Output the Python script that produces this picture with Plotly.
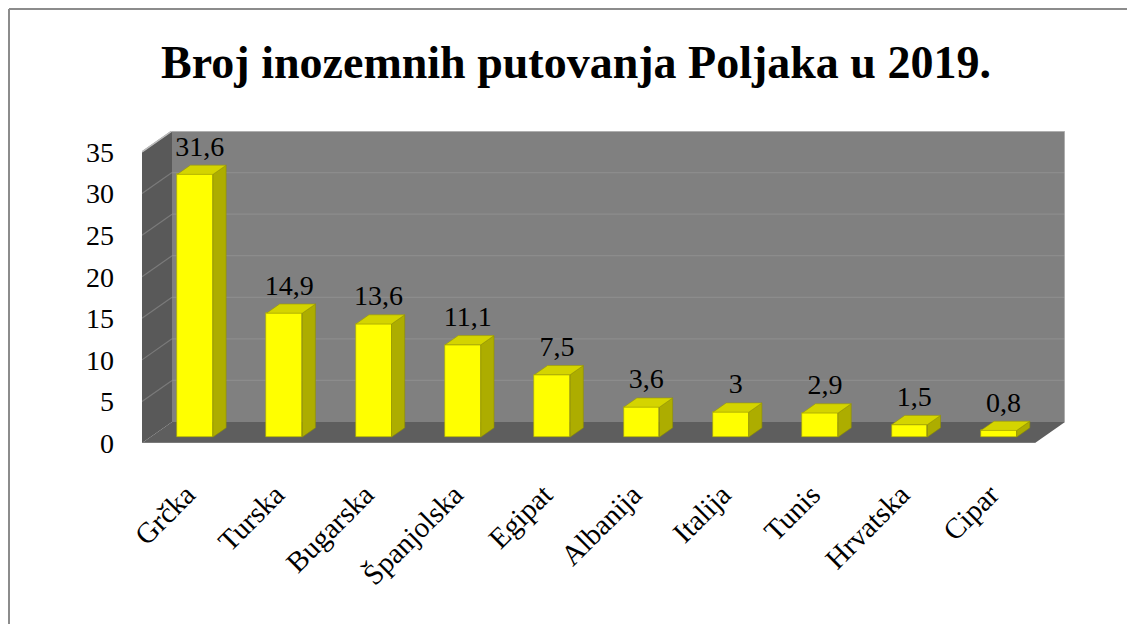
import plotly.graph_objects as go

# ---- data ----
categories = ["Grčka", "Turska", "Bugarska", "Španjolska", "Egipat",
              "Albanija", "Italija", "Tunis", "Hrvatska", "Cipar"]
values = [31.6, 14.9, 13.6, 11.1, 7.5, 3.6, 3.0, 2.9, 1.5, 0.8]
value_labels = ["31,6", "14,9", "13,6", "11,1", "7,5", "3,6", "3", "2,9", "1,5", "0,8"]
y_ticks = [0, 5, 10, 15, 20, 25, 30, 35]
title_text = "Broj inozemnih putovanja Poljaka u 2019."

# ---- pseudo-3D geometry (data units) ----
YMAX = 35
DX, DY = 0.336, 2.527      # floor depth offset
F0, F1 = 0.28, 0.72        # bar front / back depth fractions
BW = 0.40                  # bar width
XMIN, XMAX = -0.5, len(categories) - 0.5

FONT = "Liberation Serif, Times New Roman, serif"
FIG_W, FIG_H = 1119, 616

fig = go.Figure()

# side & top faces of bars
side_x, side_y, top_x, top_y = [], [], [], []
ddx, ddy = (F1 - F0) * DX, (F1 - F0) * DY
for i, v in enumerate(values):
    xc = i + F0 * DX
    xl, xr = xc - BW / 2, xc + BW / 2
    yb, yt = F0 * DY, F0 * DY + v
    side_x += [xr, xr, xr + ddx, xr + ddx, xr, None]
    side_y += [yb, yt, yt + ddy, yb + ddy, yb, None]
    top_x += [xl, xr, xr + ddx, xl + ddx, xl, None]
    top_y += [yt, yt, yt + ddy, yt + ddy, yt, None]

fig.add_trace(go.Scatter(x=side_x, y=side_y, fill="toself", mode="lines",
                         fillcolor="#ADAD00", line=dict(color="#8F8F00", width=0.6),
                         hoverinfo="skip", showlegend=False))
fig.add_trace(go.Scatter(x=top_x, y=top_y, fill="toself", mode="lines",
                         fillcolor="#D4D400", line=dict(color="#9A9A00", width=0.6),
                         hoverinfo="skip", showlegend=False))

# front faces
fig.add_trace(go.Bar(x=[i + F0 * DX for i in range(len(values))], y=values,
                     base=F0 * DY, width=BW,
                     marker=dict(color="#FFFF00", line=dict(color="#A6A600", width=0.6)),
                     showlegend=False, hovertext=categories, hoverinfo="text+y"))

# value labels
fig.add_trace(go.Scatter(x=[i + (F0 + F1) / 2 * DX - 0.02 for i in range(len(values))],
                         y=[v + F1 * DY + 0.3 for v in values],
                         mode="text", text=value_labels, textposition="top center",
                         textfont=dict(family=FONT, size=28, color="black"),
                         cliponaxis=False, hoverinfo="skip", showlegend=False))

shapes = []
# back wall
shapes.append(dict(type="rect", xref="x", yref="y", x0=XMIN + DX, x1=XMAX + DX,
                   y0=DY, y1=YMAX + DY, fillcolor="#808080", line=dict(width=0),
                   layer="below"))
# side wall
shapes.append(dict(type="path", xref="x", yref="y",
                   path=f"M {XMIN},0 L {XMIN},{YMAX} L {XMIN+DX},{YMAX+DY} L {XMIN+DX},{DY} Z",
                   fillcolor="#595959", line=dict(width=0), layer="below"))
# floor
shapes.append(dict(type="path", xref="x", yref="y",
                   path=f"M {XMIN},0 L {XMAX},0 L {XMAX+DX},{DY} L {XMIN+DX},{DY} Z",
                   fillcolor="#5E5E5E", line=dict(width=0), layer="below"))
# gridlines
for t in y_ticks[1:]:
    shapes.append(dict(type="line", xref="x", yref="y", x0=XMIN + DX, x1=XMAX + DX,
                       y0=t + DY, y1=t + DY, line=dict(color="#8C8C8C", width=1.2),
                       layer="below"))
    shapes.append(dict(type="line", xref="x", yref="y", x0=XMIN, x1=XMIN + DX,
                       y0=t, y1=t + DY, line=dict(color="#7A7A7A", width=1.2),
                       layer="below"))
# highlights at top edges
shapes.append(dict(type="path", xref="x", yref="y",
                   path=f"M {XMIN},{YMAX} L {XMIN+DX},{YMAX+DY} L {XMAX+DX},{YMAX+DY} L {XMAX+DX},{DY}",
                   line=dict(color="#BDBDBD", width=1.5), layer="below"))
shapes.append(dict(type="line", xref="x", yref="y", x0=XMIN, x1=XMAX, y0=0, y1=0,
                   line=dict(color="#7A7A7A", width=2), layer="below"))
# chart border (only top and left edges are in view)
shapes.append(dict(type="line", xref="paper", yref="paper",
                   x0=-0.1441, x1=1.5, y0=1.391, y1=1.391,
                   line=dict(color="#8C8C8C", width=2), layer="below"))
shapes.append(dict(type="line", xref="paper", yref="paper",
                   x0=-0.1441, x1=-0.1441, y0=-1.0, y1=1.391,
                   line=dict(color="#8C8C8C", width=2), layer="below"))

fig.update_layout(
    width=FIG_W, height=FIG_H,
    margin=dict(l=134, r=FIG_W - 134 - 923, t=123, b=FIG_H - 123 - 312, autoexpand=False),
    paper_bgcolor="white", plot_bgcolor="rgba(0,0,0,0)",
    shapes=shapes,
    bargap=0,
    title=dict(text=f"<b>{title_text}</b>", xref="container", yref="container",
               x=568 / FIG_W, y=1 - 54 / FIG_H, xanchor="center", yanchor="middle",
               font=dict(family=FONT, size=46, color="black")),
    xaxis=dict(range=[XMIN, XMAX + DX], tickmode="array",
               tickvals=list(range(len(categories))), ticktext=categories,
               tickangle=-45, showgrid=False, zeroline=False, showline=False,
               ticks="", ticklabelstandoff=28, automargin=False,
               tickfont=dict(family=FONT, size=29, color="black")),
    yaxis=dict(range=[0, YMAX + DY], tickmode="array", tickvals=y_ticks,
               showgrid=False, zeroline=False, showline=False, ticks="",
               ticklabelstandoff=27, automargin=False,
               tickfont=dict(family=FONT, size=28, color="black")),
)

fig.write_html("out.html")
